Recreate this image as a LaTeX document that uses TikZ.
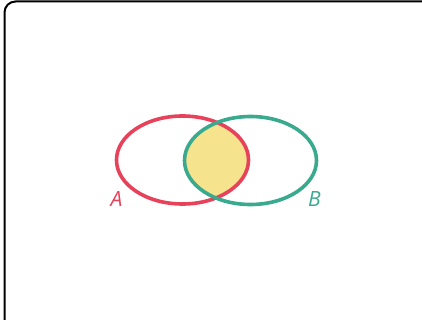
\documentclass[tikz,border=0pt]{standalone}
\usepackage{fontspec}
\setsansfont{Open Sans}
\definecolor{setred}{HTML}{E8415A}
\definecolor{setgreen}{HTML}{3AAA8E}
\definecolor{setyellow}{HTML}{F6E38E}
\tikzset{
  setline/.style={line width=3.6pt},
  setlabel/.style={font=\sffamily\itshape\fontsize{21}{21}\selectfont, inner sep=0pt}
}
\begin{document}
\begin{tikzpicture}[x=1pt,y=-1pt]

   \useasboundingbox (0,0) rectangle (422,320);
   \fill[white] (0,0) rectangle (422,320);

   % frame, cut off at right and bottom
   \draw[line width=2pt, rounded corners=11pt] (4.5,322) -- (4.5,1.5) -- (424,1.5);

   % common part
   \begin{scope}
     \clip (182.5,160) ellipse [x radius=66, y radius=44];
     \fill[setyellow] (250.5,160.5) ellipse [x radius=66, y radius=44];
   \end{scope}

   \draw[setline, setred] (182.5,160) ellipse [x radius=66, y radius=44];
   \draw[setline, setgreen] (250.5,160.5) ellipse [x radius=66, y radius=44];

   \node[setlabel, text=setred] (labA) at (116.5,199.5) {A};
   \node[setlabel, text=setgreen] (labB) at (314.5,199.5) {B};

\end{tikzpicture}
\end{document}
